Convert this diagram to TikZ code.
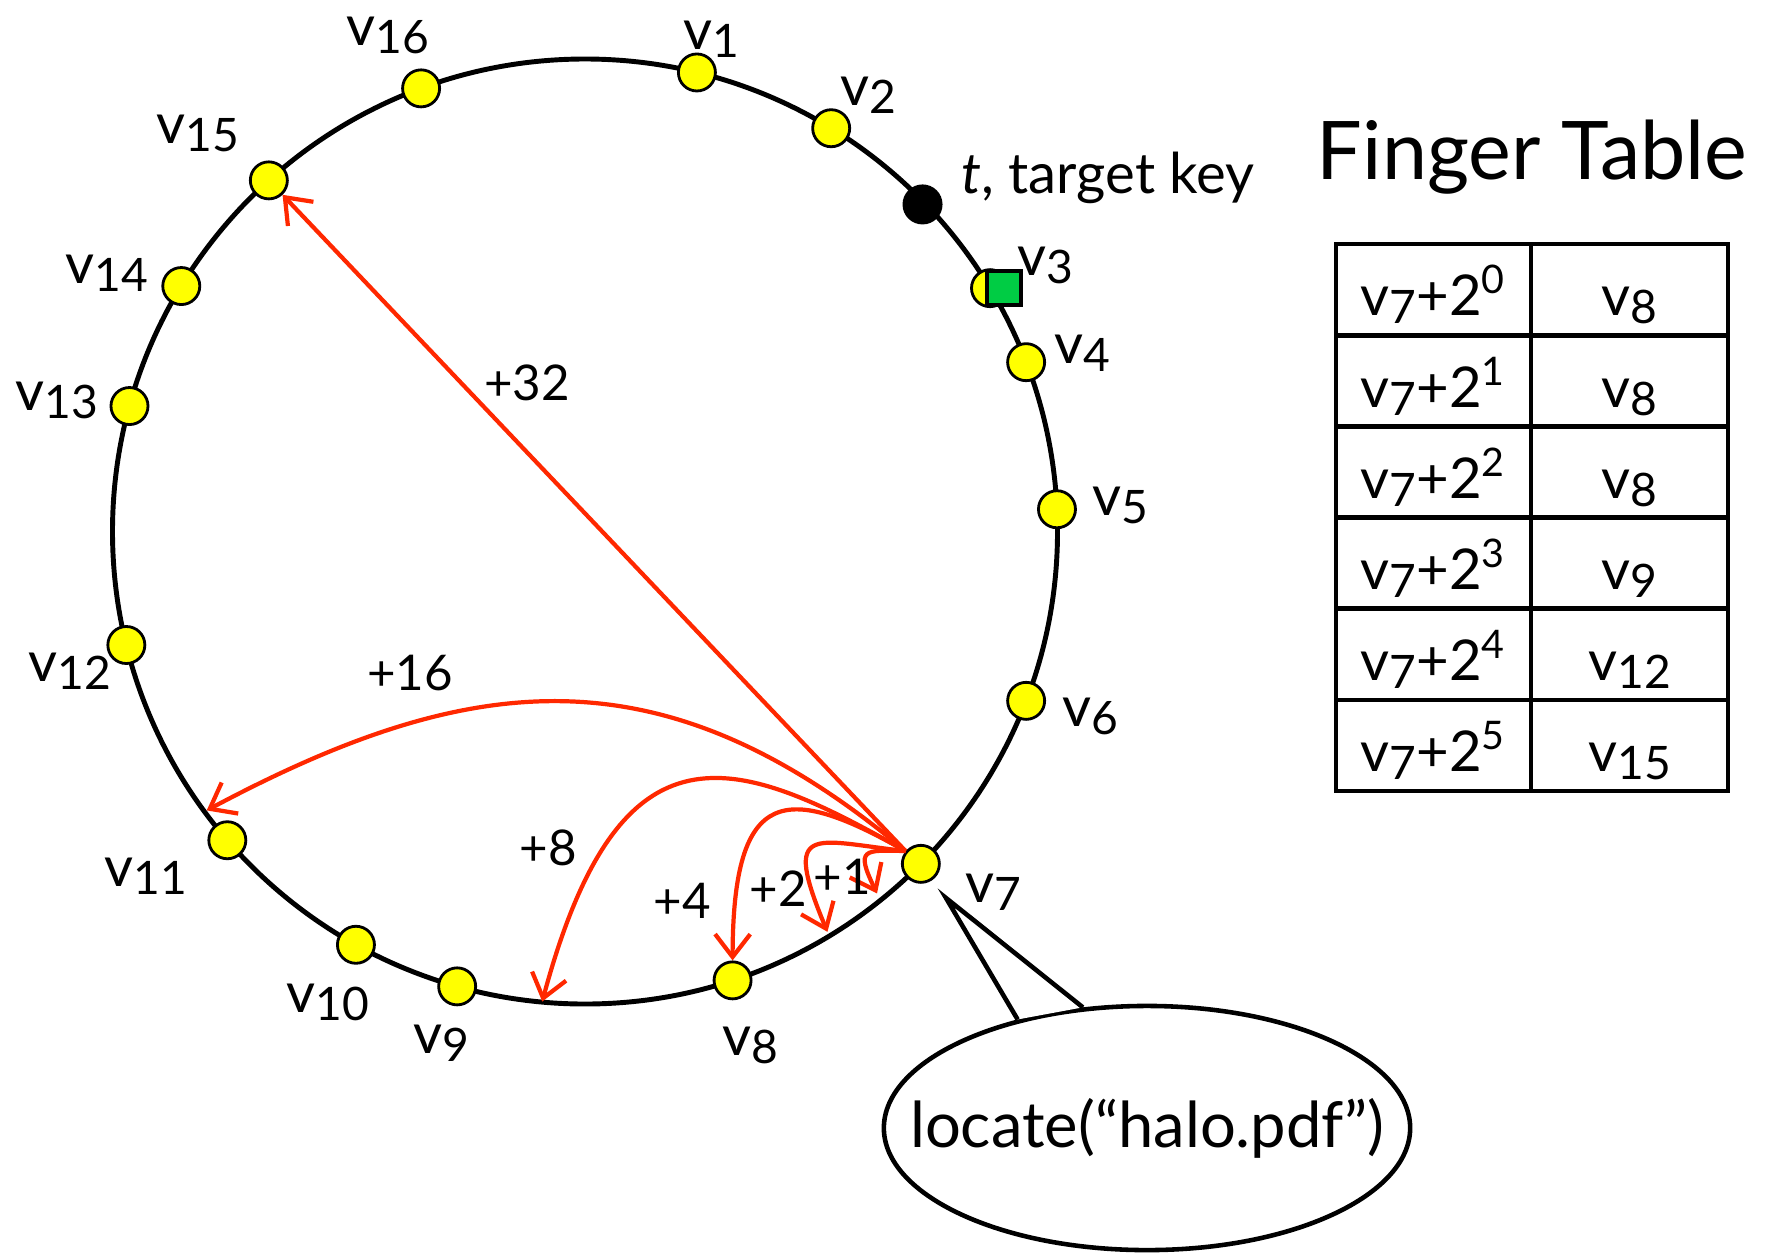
\documentclass[tikz,border=0pt]{standalone}
\usepackage{graphicx}
\usepackage{fontspec}
\setmainfont{Lato}
\usepackage{tikz}
\usetikzlibrary{arrows.meta,shapes.geometric,calc,positioning}

\definecolor{hopred}{RGB}{255,40,0}
\definecolor{peeryellow}{RGB}{255,255,0}
\definecolor{keygreen}{RGB}{0,204,68}

% peer name with lowered index
\newcommand{\vid}[1]{v\raisebox{-0.14em}{\scalebox{0.82}{#1}}}

\begin{document}
\begin{tikzpicture}[
    x=0.01cm, y=0.01cm,
    peer/.style={circle, draw, line width=0.8pt, fill=peeryellow, minimum size=3.7mm, inner sep=0pt},
    target/.style={circle, fill=black, minimum size=4mm, inner sep=0pt},
    keybox/.style={rectangle, draw, line width=1.3pt, fill=keygreen, minimum size=3.4mm, inner sep=0pt},
    vlabel/.style={font=\fontsize{16}{18}\selectfont, inner sep=0pt},
    hoplabel/.style={font=\fontsize{14}{16}\selectfont, inner sep=0pt},
    hop/.style={hopred, line width=1.2pt, -{Straight Barb[length=6.5pt, width=10pt]}},
    cell/.style={rectangle, draw, line width=1.3pt, minimum height=9.12mm, inner sep=0pt,
                 font=\fontsize{16}{18}\selectfont, text height=15pt, text depth=0pt}
]
    \useasboundingbox (0,0) rectangle (1777,1256);

    % Chord ring
    \coordinate (o) at (585,724.5);
    \draw[line width=1.4pt] (o) circle[radius=472.5];

    \foreach \i/\a in {1/76.3, 2/58.6, 3/31.0, 4/21.0, 5/2.7, 6/-21.0, 7/-44.7, 8/-71.8,
                       9/-105.7, 10/-119.0, 11/-139.2, 12/-166.1, 13/164.6, 14/148.7, 15/132.0, 16/110.3}
        \node[peer] (v\i) at ($(o)+(\a:472.5)$) {};

    \node[target] (t) at ($(o)+(44.1:470)$) {};
    \node[keybox] (succ) at ([xshift=1.4mm]v3) {};

    % Peer labels
    \foreach \i/\x/\y in {1/711/1217, 2/868/1161, 3/1045/991, 4/1082/903, 5/1120/751, 6/1090/540,
                          7/993/364, 8/750/211, 9/441/213, 10/328/254, 11/146/380, 12/70/585,
                          13/57/856, 14/107/983, 15/198/1123, 16/388/1221}
        \node[vlabel] (l\i) at (\x,\y) {\vid{\i}};

    \node[vlabel, anchor=base west] (tl) at (961,1063) {\textit{t}, target key};

    % Fingers of v7
    \coordinate (c1) at ($(o)+(-51.1:465)$);
    \coordinate (c2) at ($(o)+(-58.8:468)$);
    \coordinate (c8) at ($(o)+(-95.2:472)$);
    \coordinate (c16) at ($(o)+(-143.6:470)$);

    \draw[hop] (v7.140) -- (v15);
    \draw[hop] (v7.140) .. controls (663,608) and (472,587) .. (c16);
    \draw[hop] (v7.140) .. controls (735,502) and (620,544) .. (c8);
    \draw[hop] (v7.140) .. controls (787,472) and (733,472) .. (v8.north);
    \draw[hop] (v7.140) .. controls (814,415) and (781,435) .. (c2);
    \draw[hop] (v7.140) .. controls (864,406) and (855,408) .. (c1);

    \node[hoplabel] (h32) at (527,873) {+32};
    \node[hoplabel] (h16) at (410,583) {+16};
    \node[hoplabel] (h8) at (548,408) {+8};
    \node[hoplabel] (h4) at (682,355) {+4};
    \node[hoplabel] (h2) at (778,367) {+2};
    \node[hoplabel] (h1) at (842,379) {+1};

    % Finger table
    \node[font=\fontsize{23}{27}\selectfont] (title) at (1532,1099) {Finger Table};
    \foreach \k/\s in {0/8, 1/8, 2/8, 3/9, 4/12, 5/15} {
        \node[cell, minimum width=19.5mm] (f\k) at (1433.5, {966.4-91.17*\k}) {\vid{7}+2\textsuperscript{\k}};
        \node[cell, minimum width=19.7mm] (s\k) at (1629.5, {966.4-91.17*\k}) {\vid{\s}};
    }

    % Query bubble
    \node[ellipse, draw, line width=1.3pt, fill=white, minimum width=5.26cm, minimum height=2.44cm,
          inner sep=0pt] (bubble) at (1147,128) {};
    \node[font=\fontsize{18}{20}\selectfont] (query) at (1147,128) {locate(“halo.pdf”)};
    \coordinate (tip) at (946,358);
    \fill[white] (bubble.140) -- (tip) -- (bubble.118) -- cycle;
    \draw[line width=1.3pt, line join=miter] (bubble.140) -- (tip) -- (bubble.118);
\end{tikzpicture}
\end{document}
